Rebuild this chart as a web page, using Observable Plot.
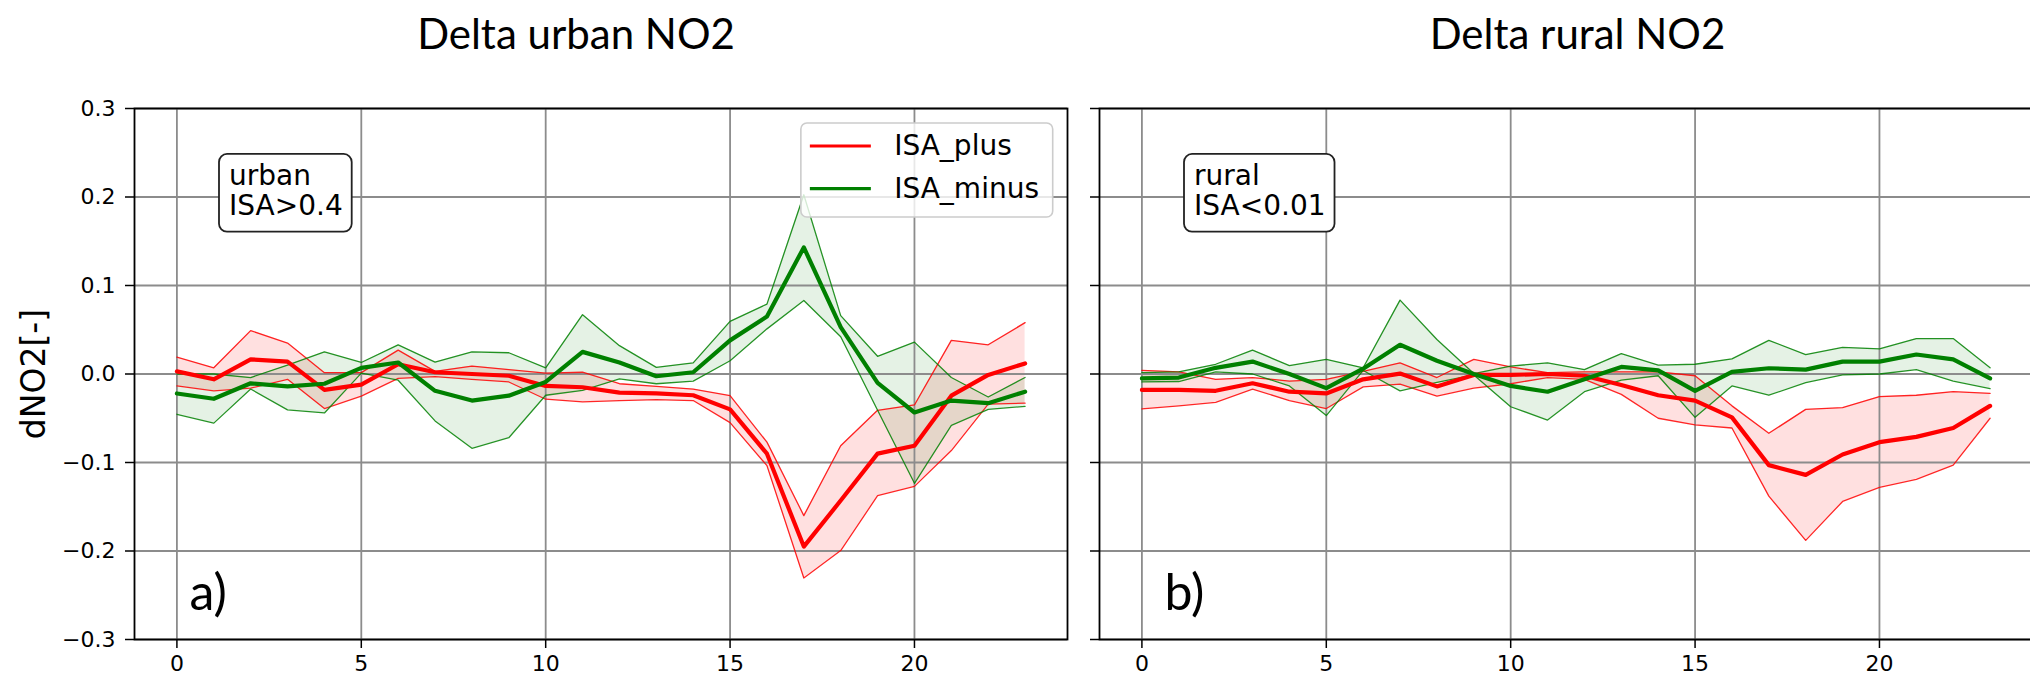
<!DOCTYPE html>
<html>
<head>
<meta charset="utf-8">
<script src="https://cdn.jsdelivr.net/npm/d3@7"></script>
<script src="https://cdn.jsdelivr.net/npm/@observablehq/plot@0.6"></script>
<style>
  html, body { margin: 0; padding: 0; background: #fff; overflow: hidden; }
  #wrap { position: relative; width: 2030px; height: 678px; overflow: hidden; background: #fff; }
  #wrap > svg { position: absolute; top: 0; }
</style>
</head>
<body>
<div id="wrap"></div>
<script>
// Hour of day
const hours = [0, 1, 2, 3, 4, 5, 6, 7, 8, 9, 10, 11, 12, 13, 14, 15, 16, 17, 18, 19, 20, 21, 22, 23];

// Tick labels
const xTicks = [0, 5, 10, 15, 20];
const yTicks = [-0.3, -0.2, -0.1, 0.0, 0.1, 0.2, 0.3];

// Text
const seriesNames = ["ISA_plus", "ISA_minus"];
const seriesColors = ["#ff0000", "#008000"];
const panelTitles = ["Delta urban NO2", "Delta rural NO2"];
const regionLabels = ["urban\nISA>0.4", "rural\nISA<0.01"];
const panelLetters = ["a)", "b)"];
const yLabel = "dNO2[-]";

// Urban cells, ISA_plus: mean with lower / upper envelope
const urbanPlusMean = [0.003, -0.006, 0.0165, 0.014, -0.018, -0.012, 0.011, 0.002, 0.000, -0.002, -0.0135, -0.015,
  -0.021, -0.022, -0.024, -0.040, -0.090, -0.195, -0.143, -0.090, -0.081, -0.0245, -0.001, 0.012];
const urbanPlusLow = [-0.0135, -0.019, -0.016, -0.006, -0.039, -0.025, -0.005, -0.003, -0.006, -0.009, -0.0285, -0.0315,
  -0.030, -0.029, -0.030, -0.055, -0.1035, -0.2305, -0.1995, -0.1375, -0.127, -0.0865, -0.034, -0.033];
const urbanPlusHigh = [0.019, 0.007, 0.049, 0.035, 0.0015, 0.0015, 0.027, 0.003, 0.009, 0.005, 0.001, 0.002,
  -0.011, -0.014, -0.017, -0.0245, -0.077, -0.160, -0.081, -0.041, -0.035, 0.038, 0.033, 0.058];

// Urban cells, ISA_minus
const urbanMinusMean = [-0.022, -0.028, -0.0105, -0.014, -0.011, 0.007, 0.013, -0.019, -0.030, -0.0245, -0.009, 0.025,
  0.013, -0.0025, 0.002, 0.038, 0.065, 0.143, 0.053, -0.010, -0.0435, -0.030, -0.033, -0.020];
const urbanMinusLow = [-0.0455, -0.0555, -0.017, -0.0405, -0.044, 0.001, -0.007, -0.053, -0.084, -0.072, -0.024, -0.0185,
  -0.0055, -0.011, -0.008, 0.015, 0.051, 0.083, 0.042, -0.041, -0.1235, -0.058, -0.040, -0.0365];
const urbanMinusHigh = [0.000, 0.000, -0.004, 0.010, 0.025, 0.013, 0.033, 0.0135, 0.025, 0.024, 0.007, 0.067,
  0.032, 0.0075, 0.0125, 0.0595, 0.079, 0.2025, 0.066, 0.020, 0.036, -0.004, -0.026, -0.004];

// Rural cells, ISA_plus
const ruralPlusMean = [-0.018, -0.018, -0.019, -0.0105, -0.020, -0.022, -0.006, 0.0005, -0.014, -0.001, -0.001, 0.000,
  -0.002, -0.0125, -0.024, -0.030, -0.049, -0.103, -0.114, -0.091, -0.077, -0.071, -0.061, -0.036];
const ruralPlusLow = [-0.0395, -0.036, -0.032, -0.017, -0.030, -0.039, -0.0145, -0.0115, -0.025, -0.016, -0.011, -0.004,
  -0.006, -0.023, -0.050, -0.0575, -0.061, -0.138, -0.188, -0.144, -0.128, -0.119, -0.103, -0.050];
const ruralPlusHigh = [0.004, 0.0025, -0.006, -0.004, -0.008, -0.006, 0.003, 0.0125, -0.004, 0.0165, 0.008, 0.0015,
  0.0025, 0.0025, 0.0025, -0.002, -0.036, -0.067, -0.040, -0.038, -0.0255, -0.024, -0.020, -0.022];

// Rural cells, ISA_minus
const ruralMinusMean = [-0.005, -0.004, 0.007, 0.014, 0.000, -0.016, 0.006, 0.033, 0.015, 0.000, -0.0135, -0.020,
  -0.006, 0.008, 0.004, -0.019, 0.0025, 0.0065, 0.005, 0.014, 0.014, 0.022, 0.0165, -0.005];
const ruralMinusLow = [-0.009, -0.0085, 0.0025, 0.000, -0.0135, -0.047, 0.004, -0.019, -0.0095, -0.001, -0.037, -0.052,
  -0.020, -0.007, -0.002, -0.049, -0.0135, -0.024, -0.0098, -0.001, 0.000, 0.005, -0.008, -0.0165];
const ruralMinusHigh = [0.0015, 0.0025, 0.011, 0.027, 0.0095, 0.0165, 0.007, 0.0835, 0.039, 0.0005, 0.009, 0.0125,
  0.005, 0.023, 0.010, 0.011, 0.017, 0.038, 0.022, 0.030, 0.0285, 0.040, 0.040, 0.007];

const rows = (mean, lo, hi) => hours.map((h, i) => ({h, mean: mean[i], lo: lo[i], hi: hi[i]}));

const NS = "http://www.w3.org/2000/svg";
const GRID = "#8c8c8c";

function panel({title, titleDx, bands, region, letter, letterDx, showYLabels, width, marginLeft, marginRight}) {
  const marks = [];
  // shaded envelopes
  bands.forEach((b, k) => marks.push(
    Plot.areaY(b, {x: "h", y1: "lo", y2: "hi", fill: seriesColors[k], fillOpacity: k === 0 ? 0.12 : 0.1})
  ));
  // grid
  marks.push(Plot.gridX(xTicks, {stroke: GRID, strokeOpacity: 1, strokeWidth: 1.8}));
  marks.push(Plot.gridY(yTicks, {stroke: GRID, strokeOpacity: 1, strokeWidth: 2}));
  // envelope edges
  bands.forEach((b, k) => {
    marks.push(Plot.lineY(b, {x: "h", y: "hi", stroke: seriesColors[k], strokeWidth: 1.3, strokeOpacity: 0.85}));
    marks.push(Plot.lineY(b, {x: "h", y: "lo", stroke: seriesColors[k], strokeWidth: 1.3, strokeOpacity: 0.85}));
  });
  // means
  bands.forEach((b, k) => marks.push(
    Plot.lineY(b, {x: "h", y: "mean", stroke: seriesColors[k], strokeWidth: 4.2})
  ));
  marks.push(Plot.frame({stroke: "black", strokeWidth: 1.8}));
  marks.push(Plot.axisX(xTicks, {
    tickSize: 9, tickPadding: 7, fontSize: 22, label: null, stroke: "black", strokeWidth: 1.5,
    tickFormat: d3.format("d")
  }));
  marks.push(Plot.axisY(yTicks, {
    tickSize: 9, tickPadding: 10, fontSize: 22, label: null, stroke: "black", strokeWidth: 1.5,
    tickFormat: showYLabels ? d3.format(".1f") : () => ""
  }));
  if (showYLabels) {
    marks.push(Plot.text([yLabel], {
      frameAnchor: "left", dx: -100, rotate: -90, fontSize: 33, textAnchor: "middle", lineAnchor: "middle"
    }));
  }
  // panel title
  marks.push(Plot.text([title], {
    frameAnchor: "top", dx: titleDx, dy: -60, lineAnchor: "bottom", fontSize: 42, fontFamily: "Lato"
  }));
  // region annotation
  marks.push(Plot.text([region], {
    frameAnchor: "top-left", dx: 94.5, dy: 55, lineAnchor: "top", textAnchor: "start",
    fontSize: 28, lineHeight: 1.08, ariaLabel: "region"
  }));
  // panel letter
  marks.push(Plot.text([letter], {
    frameAnchor: "bottom-left", dx: letterDx, dy: -30, lineAnchor: "bottom", textAnchor: "start",
    fontSize: 50, fontFamily: "Lato"
  }));

  return Plot.plot({
    width, height: 678,
    marginTop: 108, marginBottom: 39, marginLeft, marginRight,
    x: {domain: [-1.15, 24.15], label: null},
    y: {domain: [-0.3, 0.3], label: null},
    style: {fontFamily: "DejaVu Sans", fontSize: "22px", background: "white", overflow: "visible", maxWidth: "none", color: "black"},
    marks
  });
}

// Rounded box behind the region annotation
function boxRegion(svg, label) {
  let t = svg.querySelector('text[aria-label="region"]');
  if (!t) {
    const first = label.split("\n")[0];
    t = [...svg.querySelectorAll("text")].find(el => el.textContent.startsWith(first));
  }
  if (!t) return;
  const b = t.getBBox();
  const r = document.createElementNS(NS, "rect");
  r.setAttribute("x", b.x - 10);
  r.setAttribute("y", b.y - 5);
  r.setAttribute("width", b.width + 19);
  r.setAttribute("height", b.height + 14.5);
  r.setAttribute("rx", 8);
  r.setAttribute("fill", "white");
  r.setAttribute("stroke", "#222");
  r.setAttribute("stroke-width", 1.8);
  const tr = t.getAttribute("transform");
  if (tr) r.setAttribute("transform", tr);
  t.parentNode.insertBefore(r, t);
}

function addLegend(svg) {
  const xr = svg.scale("x").range, yr = svg.scale("y").range;
  const right = Math.max(...xr) - 14.3, top = Math.min(...yr) + 15;
  const g = document.createElementNS(NS, "g");
  g.setAttribute("text-anchor", "start");
  svg.appendChild(g);
  const rect = document.createElementNS(NS, "rect");
  g.appendChild(rect);
  const texts = seriesNames.map((name) => {
    const t = document.createElementNS(NS, "text");
    t.textContent = name;
    t.setAttribute("font-size", 28);
    t.setAttribute("font-family", "DejaVu Sans");
    t.setAttribute("text-anchor", "start");
    t.setAttribute("fill", "black");
    g.appendChild(t);
    return t;
  });
  const tw = Math.max(...texts.map(t => t.getComputedTextLength()));
  const left = right - (93.3 + tw + 13.7);
  rect.setAttribute("x", left);
  rect.setAttribute("y", top);
  rect.setAttribute("width", right - left);
  rect.setAttribute("height", 94);
  rect.setAttribute("rx", 6);
  rect.setAttribute("fill", "white");
  rect.setAttribute("fill-opacity", 0.8);
  rect.setAttribute("stroke", "#cccccc");
  rect.setAttribute("stroke-width", 1.6);
  const rowY = [23, 65.6], baseY = [32.3, 75.3];
  seriesNames.forEach((name, i) => {
    const l = document.createElementNS(NS, "line");
    l.setAttribute("x1", left + 9);
    l.setAttribute("x2", left + 70);
    l.setAttribute("y1", top + rowY[i]);
    l.setAttribute("y2", top + rowY[i]);
    l.setAttribute("stroke", seriesColors[i]);
    l.setAttribute("stroke-width", 3.2);
    g.insertBefore(l, texts[0]);
    texts[i].setAttribute("x", left + 93.3);
    texts[i].setAttribute("y", top + baseY[i]);
  });
}

const wrap = document.getElementById("wrap");

const left = panel({
  title: panelTitles[0], titleDx: -25,
  bands: [rows(urbanPlusMean, urbanPlusLow, urbanPlusHigh), rows(urbanMinusMean, urbanMinusLow, urbanMinusHigh)],
  region: regionLabels[0], letter: panelLetters[0], letterDx: 55, showYLabels: true,
  width: 1080, marginLeft: 134, marginRight: 13
});
left.style.left = "0px";
wrap.appendChild(left);

const right = panel({
  title: panelTitles[1], titleDx: 11.5,
  bands: [rows(ruralPlusMean, ruralPlusLow, ruralPlusHigh), rows(ruralMinusMean, ruralMinusLow, ruralMinusHigh)],
  region: regionLabels[1], letter: panelLetters[1], letterDx: 65, showYLabels: false,
  width: 952, marginLeft: 19, marginRight: 0
});
right.style.left = "1080px";
wrap.appendChild(right);

boxRegion(left, regionLabels[0]);
boxRegion(right, regionLabels[1]);
addLegend(left);
</script>
</body>
</html>
